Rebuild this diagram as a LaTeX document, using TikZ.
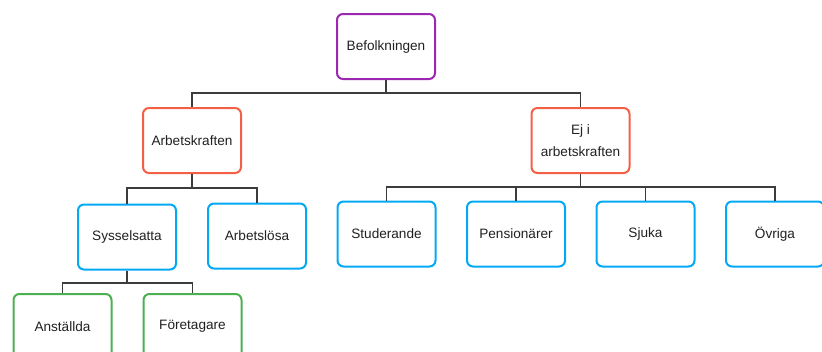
\documentclass[tikz,border=0pt]{standalone}
\usepackage{fontspec}
\setmainfont{Liberation Sans}
\usepackage{tikz}
\usetikzlibrary{positioning}

\definecolor{toplila}{RGB}{156,39,176}
\definecolor{roed}{RGB}{244,96,70}
\definecolor{blaa}{RGB}{3,169,244}
\definecolor{groen}{RGB}{76,175,80}
\definecolor{linje}{RGB}{60,60,60}
\definecolor{text}{RGB}{33,33,33}

\tikzset{
    ruta/.style={draw, rectangle, rounded corners=6pt, line width=2pt,
        minimum width=98pt, minimum height=65pt, align=center, fill=white,
        text=text, font=\fontsize{13.6}{22}\selectfont},
    led/.style={draw=linje, line width=1.1pt}
}

\begin{document}
\begin{tikzpicture}[x=1pt,y=-1pt]
        \useasboundingbox (0,0) rectangle (822,351);
        \clip (0,0) rectangle (822,351);

            % nivaa 1
            \node [ruta, draw=toplila](befolk) at (386,46.5) {Befolkningen};

            % nivaa 2
            \node [ruta, draw=roed](arbkr) at (192,140.5) {Arbetskraften};
            \node [ruta, draw=roed](ejarb) at (580.5,140.5) {Ej i\\arbetskraften};

            % nivaa 3
            \node [ruta, draw=blaa](syssel) at (127,237) {Sysselsatta};
            \node [ruta, draw=blaa](arblos) at (257,236) {Arbetslösa};
            \node [ruta, draw=blaa](stud) at (386.5,234) {Studerande};
            \node [ruta, draw=blaa](pens) at (516,234) {Pensionärer};
            \node [ruta, draw=blaa](sjuka) at (645.5,234) {Sjuka};
            \node [ruta, draw=blaa](ovriga) at (775,234) {Övriga};

            % nivaa 4
            \node [ruta, draw=groen](anst) at (62.5,326.5) {Anställda};
            \node [ruta, draw=groen](foret) at (192.5,326.5) {Företagare};

            % samlingslinjer
            \coordinate (b1) at (0,93);
            \coordinate (b2) at (0,188);
            \coordinate (b3) at (0,187);
            \coordinate (b4) at (0,283);

        \foreach \barn in {arbkr,ejarb}
            \draw[led] (befolk.south) -- (befolk.south |- b1) -| (\barn.north);
        \foreach \barn in {syssel,arblos}
            \draw[led] (arbkr.south) -- (arbkr.south |- b2) -| (\barn.north);
        \foreach \barn in {stud,pens,sjuka,ovriga}
            \draw[led] (ejarb.south) -- (ejarb.south |- b3) -| (\barn.north);
        \foreach \barn in {anst,foret}
            \draw[led] (syssel.south) -- (syssel.south |- b4) -| (\barn.north);
        \end{tikzpicture}
\end{document}
